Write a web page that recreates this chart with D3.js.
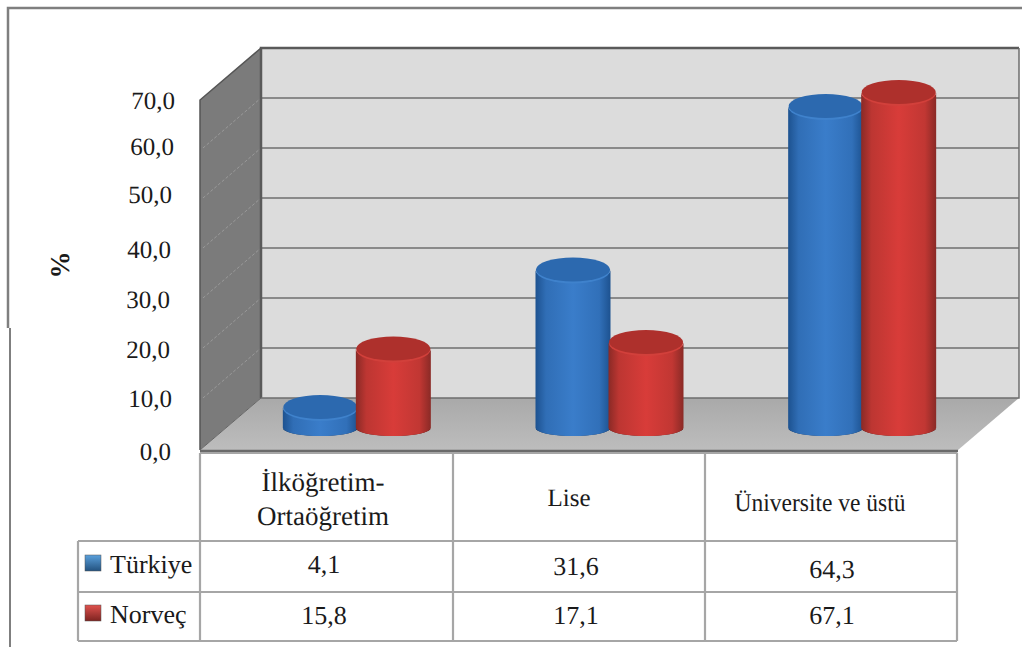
<!DOCTYPE html>
<html><head><meta charset="utf-8">
<style>
html,body{margin:0;padding:0;background:#fff}
svg{display:block}
text{font-family:"Liberation Serif","Times New Roman",serif;fill:#1a1a1a;text-rendering:geometricPrecision}
</style>
<script src="https://cdn.jsdelivr.net/npm/d3@7/dist/d3.min.js"></script>
</head><body>
<svg id="chart" width="1022" height="647"></svg>
<script>
// Education level shares by country
const categories = ["İlköğretim-\nOrtaöğretim", "Lise", "Üniversite ve üstü"];
const seriesNames = ["Türkiye", "Norveç"];
const turkiye = [4.1, 31.6, 64.3];
const norvec = [15.8, 17.1, 67.1];
const tickValues = [0, 10, 20, 30, 40, 50, 60, 70];
const formatComma = v => v.toFixed(1).replace(".", ",");

const svg = d3.select("#chart");
const defs = svg.append("defs");

// Front plane of the 3D box and the depth offset to its back wall
const front = {x0: 200, x1: 958};
const depth = {dx: 61, dy: -52};
const yFront = d3.scaleLinear().domain([0, 70]).range([450, 100]);
const yBack = v => yFront(v) + depth.dy;
const yBar = v => yFront(v) - 22;
const xBand = d3.scaleBand().domain(categories).range([front.x0, front.x1]);
const xInner = d3.scaleBand().domain(seriesNames).range([-73, 73]);
const barRx = 37.5, topRy = 12, baseRy = 8, barShift = 30.5;

const palette = {
  "Türkiye": {edge: "#1d5290", mid: "#3a7dca", top: "#2c69af", rim: "#3f82cc", shade: "#12233f", swatchTop: "#5aa0dc", swatchBot: "#23527f"},
  "Norveç": {edge: "#8a2a26", mid: "#d83c39", top: "#ae302c", rim: "#d2403b", shade: "#3a0d0b", swatchTop: "#e0524e", swatchBot: "#7d2320"}
};
seriesNames.forEach((name, i) => {
  const c = palette[name];
  const g = defs.append("linearGradient").attr("id", "body" + i);
  [[0, c.edge], [0.14, d3.interpolateRgb(c.edge, c.mid)(0.65)], [0.5, c.mid], [0.85, d3.interpolateRgb(c.edge, c.mid)(0.7)], [1, c.edge]]
    .forEach(([o, col]) => g.append("stop").attr("offset", o).attr("stop-color", col));
  const s = defs.append("linearGradient").attr("id", "swatch" + i).attr("x2", 0).attr("y2", 1);
  s.append("stop").attr("offset", 0).attr("stop-color", c.swatchTop);
  s.append("stop").attr("offset", 1).attr("stop-color", c.swatchBot);
});
const floorGrad = defs.append("linearGradient").attr("id", "floor").attr("x2", 0).attr("y2", 1);
floorGrad.append("stop").attr("offset", 0).attr("stop-color", "#a9a9a9");
floorGrad.append("stop").attr("offset", 1).attr("stop-color", "#bdbdbd");

// Outer frame of the chart area
svg.append("path").attr("d", "M1022,8H8V328").attr("fill", "none").attr("stroke", "#7f7f7f").attr("stroke-width", 2.5);
svg.append("path").attr("d", "M10,328V647").attr("fill", "none").attr("stroke", "#7f7f7f").attr("stroke-width", 2);

// Box walls
const line = d3.line();
const bx0 = front.x0 + depth.dx, bx1 = front.x1 + depth.dx;
svg.append("path").attr("d", line([[bx0, yBack(70)], [bx1, yBack(70)], [bx1, yBack(0)], [bx0, yBack(0)]]) + "Z").attr("fill", "#dcdcdc");
svg.append("path").attr("d", line([[front.x0, yFront(70)], [bx0, yBack(70)], [bx0, yBack(0)], [front.x0, yFront(0)]]) + "Z").attr("fill", "#7b7b7b");
svg.append("path").attr("d", line([[front.x0, yFront(0)], [bx0, yBack(0)], [bx1, yBack(0)], [front.x1, yFront(0)]]) + "Z").attr("fill", "url(#floor)");

// Gridlines on the back wall and dashed continuations across the side wall
const innerTicks = tickValues.filter(v => v > 0 && v < 70);
svg.append("g").selectAll("line").data(innerTicks).join("line")
  .attr("x1", bx0).attr("x2", bx1).attr("y1", yBack).attr("y2", yBack)
  .attr("stroke", "#8a8a8a").attr("stroke-width", 2);
svg.append("g").selectAll("line").data(innerTicks).join("line")
  .attr("x1", front.x0 + 3).attr("x2", bx0).attr("y1", v => yFront(v) - 2).attr("y2", yBack)
  .attr("stroke", "#9a9a9a").attr("stroke-width", 1).attr("stroke-dasharray", "3 2");

// Box outlines
svg.append("path").attr("d", line([[bx0, yBack(0)], [bx0, yBack(70)], [bx1, yBack(70)]])).attr("fill", "none").attr("stroke", "#5a5a5a").attr("stroke-width", 2.5);
svg.append("path").attr("d", line([[bx1, yBack(70)], [bx1, yBack(0)], [bx0, yBack(0)]])).attr("fill", "none").attr("stroke", "#6e6e6e").attr("stroke-width", 1.5);
svg.append("path").attr("d", line([[front.x0, yFront(0)], [front.x0, yFront(70)], [bx0, yBack(70)]])).attr("fill", "none").attr("stroke", "#555").attr("stroke-width", 1.5);
svg.append("path").attr("d", line([[front.x0, yFront(0)], [bx0, yBack(0)]])).attr("fill", "none").attr("stroke", "#666").attr("stroke-width", 1);
svg.append("path").attr("d", line([[front.x0, yFront(0) + 1], [front.x1, yFront(0) + 1]])).attr("fill", "none").attr("stroke", "#6a6a6a").attr("stroke-width", 2.5);

// Cylinders, Türkiye first so Norveç overlaps it within each group
const barData = seriesNames.flatMap((name, s) => (s === 0 ? turkiye : norvec).map((v, i) => ({name, s, v, cat: categories[i]})));
const bars = svg.append("g").selectAll("g").data(barData).join("g")
  .attr("transform", d => `translate(${xBand(d.cat) + xBand.bandwidth() / 2 + barShift + xInner(d.name) + xInner.bandwidth() / 2},0)`);
bars.append("path")
  .attr("d", d => {
    const b = yBar(0) + 1;
    return `M${-barRx + 1},${b}A${barRx},${baseRy} 0 0 0 ${barRx - 1},${b}`;
  })
  .attr("fill", "none").attr("stroke", d => palette[d.name].shade).attr("stroke-width", 1.6);
bars.append("path")
  .attr("d", d => {
    const t = yBar(d.v), b = yBar(0);
    return `M${-barRx},${t}L${-barRx},${b}A${barRx},${baseRy} 0 0 0 ${barRx},${b}L${barRx},${t}A${barRx},${topRy} 0 0 1 ${-barRx},${t}Z`;
  })
  .attr("fill", d => `url(#body${d.s})`);
bars.append("ellipse").attr("cx", 0).attr("cy", d => yBar(d.v) + 1).attr("rx", barRx - 0.5).attr("ry", topRy + 0.5)
  .attr("fill", d => palette[d.name].rim);
bars.append("ellipse").attr("cx", 0).attr("cy", d => yBar(d.v) - 0.5).attr("rx", barRx - 0.5).attr("ry", topRy)
  .attr("fill", d => palette[d.name].top);

// Value axis labels, hand-set slightly off the tick positions
const tickNudgeX = [-4, -3, -5, -5, -4, -3, -1, 0];
const tickNudgeY = [1, -2, -1, -1, -1, -6, -4, 0];
const axis = svg.append("g").attr("transform", "translate(175,0)")
  .call(d3.axisLeft(yFront).tickValues(tickValues).tickFormat(formatComma).tickSize(0).tickPadding(0));
axis.select(".domain").remove();
axis.selectAll("text").attr("font-size", 25).style("font-family", '"Liberation Serif",serif').attr("fill", "#1a1a1a")
  .attr("dx", (d, i) => tickNudgeX[i]).attr("dy", (d, i) => 8.5 + tickNudgeY[i]);

svg.append("text").attr("transform", "translate(69,265) rotate(-90)").attr("text-anchor", "middle")
  .attr("font-size", 27).attr("font-weight", "bold").text("%");

// Data table beneath the plot
const tableY = [453, 541, 592, 641];
const tableX = [78, 200, 453, 705, 957];
const tbl = svg.append("g").attr("stroke", "#a6a6a6").attr("stroke-width", 2.2);
tbl.append("line").attr("x1", 200).attr("x2", 957).attr("y1", tableY[0]).attr("y2", tableY[0]);
[1, 2, 3].forEach(i => tbl.append("line").attr("x1", 78).attr("x2", 957).attr("y1", tableY[i]).attr("y2", tableY[i]));
tableX.forEach((x, i) => tbl.append("line").attr("x1", x).attr("x2", x).attr("y1", i === 0 ? tableY[1] : tableY[0]).attr("y2", tableY[3]));

const headerCx = [323, 569, 820];
const headerY = [[491, 525], [506], [511]];
const headerSize = [27, 25, 25.5];
categories.forEach((c, i) => {
  c.split("\n").forEach((t, k) => {
    const label = svg.append("text").attr("x", headerCx[i]).attr("y", headerY[i][k])
      .attr("text-anchor", "middle").attr("font-size", headerSize[i]).text(t);
    // The long header is condensed to sit inside its column
    if (i === 2) label.attr("textLength", 171).attr("lengthAdjust", "spacingAndGlyphs");
  });
});
const cellCx = [324, 576, 832];
const cellBaseline = [[573, 575, 578], [624, 624, 624]];
[turkiye, norvec].forEach((vals, r) => {
  vals.forEach((v, i) => svg.append("text").attr("x", cellCx[i]).attr("y", cellBaseline[r][i])
    .attr("text-anchor", "middle").attr("font-size", 26).text(formatComma(v)));
  svg.append("rect").attr("x", 85).attr("y", [555, 605][r]).attr("width", 16).attr("height", 16)
    .attr("fill", `url(#swatch${r})`).attr("stroke", "#555").attr("stroke-width", 0.5);
  svg.append("text").attr("x", 110).attr("y", [573, 623][r]).attr("font-size", 26).text(seriesNames[r]);
});
</script>
</body></html>
